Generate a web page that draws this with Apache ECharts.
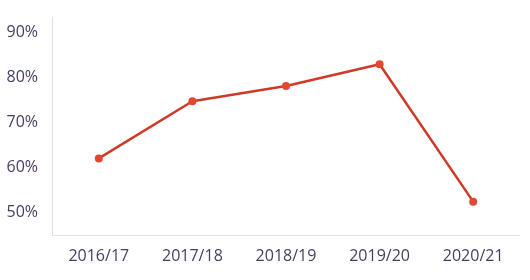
<!DOCTYPE html>
<html>
<head>
<meta charset="utf-8">
<script src="https://cdn.jsdelivr.net/npm/echarts@6/dist/echarts.min.js"></script>
<style>html,body{margin:0;padding:0;background:#fff;}#c{width:530px;height:280px;}</style>
</head>
<body>
<div id="c"></div>
<script>
const categories = ['2016/17', '2017/18', '2018/19', '2019/20', '2020/21'];
const values = [62, 74.7, 78.1, 82.9, 52.4];
const yTickValues = [50, 60, 70, 80, 90];

const chart = echarts.init(document.getElementById('c'), null, {renderer: 'canvas'});
chart.setOption({
  animation: false,
  backgroundColor: '#ffffff',
  grid: {left: 52, right: 10, top: 17, bottom: 45, containLabel: false},
  xAxis: {
    type: 'category',
    data: categories,
    boundaryGap: true,
    axisLine: {show: true, lineStyle: {color: '#e4e4e8', width: 1}},
    axisTick: {show: false},
    axisLabel: {color: '#4a3b60', fontFamily: 'Open Sans', fontSize: 16, margin: 13},
    splitLine: {show: false}
  },
  yAxis: {
    type: 'value',
    min: 45,
    max: 93.4,
    interval: 5,
    axisLine: {show: true, lineStyle: {color: '#e0e0e4', width: 1}},
    axisTick: {show: false},
    splitLine: {show: false},
    axisLabel: {
      color: '#4a3b60', fontFamily: 'Open Sans', fontSize: 16, margin: 14,
      formatter: function (v) { return yTickValues.indexOf(v) >= 0 ? v + '%' : ''; }
    }
  },
  series: [{
    type: 'line',
    data: values,
    symbol: 'circle',
    symbolSize: 8,
    lineStyle: {color: '#cf3a28', width: 2.5},
    itemStyle: {color: '#e2472f'},
    emphasis: {disabled: true}
  }]
});
</script>
</body>
</html>
